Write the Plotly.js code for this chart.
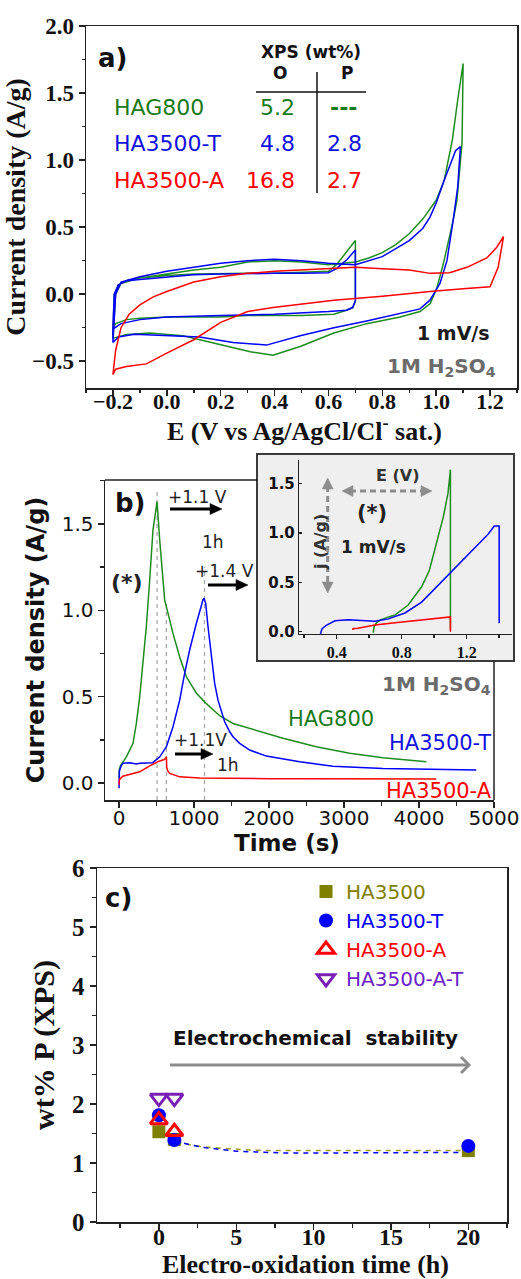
<!DOCTYPE html>
<html><head><meta charset="utf-8">
<script src="https://cdn.plot.ly/plotly-3.0.1.min.js"></script>
<style>html,body{margin:0;padding:0;background:#fff;}#chart{width:521px;height:1279px;}</style>
</head><body><div id="chart"></div>
<script>
// ================= DATA =================
// Panel a) cyclic voltammograms, E (V) vs current density (A/g)
const cvGreenE = [-0.2,-0.195,-0.18,-0.15,-0.1,0.0,0.1,0.2,0.3,0.4,0.5,0.6,0.63,0.66,0.7,0.7,0.69,0.667,0.62,0.5,0.4,0.3,0.2,0.1,0.0,-0.1,-0.15,-0.19,-0.2,
  -0.2,-0.19,-0.17,-0.1,0.0,0.1,0.2,0.3,0.4,0.5,0.6,0.7,0.75,0.8,0.85,0.9,0.95,1.0,1.03,1.06,1.08,1.1,
  1.096,1.077,1.063,1.027,1.003,0.978,0.94,0.866,0.742,0.62,0.495,0.394,0.31,0.185,0.06,-0.064,-0.15,-0.2];
const cvGreenJ = [-0.25,0.0,0.07,0.1,0.12,0.14,0.15,0.155,0.155,0.155,0.16,0.17,0.22,0.3,0.4,-0.05,-0.1,-0.12,-0.15,-0.16,-0.16,-0.16,-0.17,-0.17,-0.17,-0.18,-0.19,-0.22,-0.25,
  -0.33,0.0,0.08,0.12,0.15,0.18,0.2,0.24,0.25,0.24,0.22,0.24,0.27,0.31,0.37,0.45,0.56,0.7,0.85,1.15,1.45,1.72,
  1.13,0.7,0.55,0.23,0.05,-0.07,-0.13,-0.17,-0.22,-0.29,-0.39,-0.455,-0.43,-0.37,-0.31,-0.29,-0.3,-0.33];
const cvBlueE = [-0.2,-0.195,-0.18,-0.15,-0.1,0.0,0.1,0.2,0.3,0.4,0.5,0.6,0.63,0.67,0.7,0.7,0.69,0.667,0.6,0.4,0.2,0.0,-0.1,-0.17,-0.2,
  -0.2,-0.19,-0.17,-0.1,0.0,0.1,0.2,0.3,0.4,0.5,0.6,0.7,0.8,0.9,0.95,0.977,1.0,1.028,1.05,1.072,1.09,
  1.08,1.063,1.04,1.014,0.977,0.94,0.866,0.742,0.62,0.495,0.37,0.246,0.122,0.0,-0.12,-0.18,-0.2];
const cvBlueJ = [-0.26,0.0,0.07,0.1,0.11,0.13,0.145,0.15,0.155,0.155,0.155,0.16,0.19,0.26,0.33,-0.05,-0.1,-0.12,-0.13,-0.15,-0.16,-0.17,-0.19,-0.22,-0.26,
  -0.36,0.0,0.09,0.13,0.17,0.2,0.23,0.25,0.26,0.25,0.23,0.22,0.28,0.4,0.49,0.575,0.68,0.84,0.95,1.07,1.1,
  0.8,0.55,0.25,0.08,-0.045,-0.11,-0.145,-0.2,-0.25,-0.31,-0.38,-0.36,-0.32,-0.31,-0.3,-0.32,-0.36];
const cvRedE = [-0.2,-0.19,-0.17,-0.14,-0.1,-0.05,0.0,0.1,0.2,0.3,0.4,0.5,0.6,0.7,0.8,0.9,0.978,1.05,1.114,1.188,1.225,1.25,
  1.23,1.2,1.1,0.977,0.8,0.62,0.394,0.3,0.2,0.1,0.0,-0.076,-0.15,-0.19,-0.2];
const cvRedJ = [-0.6,-0.42,-0.25,-0.15,-0.08,-0.02,0.02,0.09,0.13,0.155,0.17,0.18,0.19,0.2,0.19,0.18,0.155,0.16,0.2,0.27,0.35,0.43,
  0.2,0.055,0.04,0.02,-0.015,-0.045,-0.1,-0.13,-0.21,-0.34,-0.44,-0.52,-0.54,-0.56,-0.6];

// Panel b) current density vs time (s)
const tGreen = [0,5,18,60,98,187,231,276,320,364,409,453,498,507,542,587,609,720,809,898,1032,1165,1342,1520,1743,2187,2631,3076,3520,4099];
const jGreen = [0.03,0.08,0.1,0.13,0.152,0.23,0.345,0.5,0.69,0.905,1.175,1.465,1.6,1.63,1.41,1.17,1.06,0.866,0.73,0.615,0.52,0.46,0.39,0.345,0.316,0.259,0.21,0.172,0.147,0.123];
const tBlue = [0,5,30,53,142,231,276,364,450,543,632,720,809,876,942,1032,1076,1120,1133,1156,1187,1231,1276,1320,1364,1409,1476,1520,1609,1743,1965,2409,2853,3520,4365,4765];
const jBlue = [-0.03,0.07,0.1,0.115,0.118,0.11,0.115,0.115,0.118,0.152,0.21,0.326,0.48,0.636,0.77,0.925,1.0,1.06,1.07,1.04,0.905,0.731,0.576,0.48,0.413,0.355,0.297,0.268,0.23,0.191,0.156,0.123,0.098,0.085,0.079,0.075];
const tRed = [0,5,50,187,276,409,542,609,632,636,650,676,760,809,1076,1300,1600,2000,2500,3000,3500,4000,4231];
const jRed = [-0.01,0.02,0.04,0.055,0.065,0.1,0.128,0.137,0.152,0.09,0.07,0.056,0.045,0.036,0.029,0.027,0.026,0.025,0.025,0.024,0.024,0.023,0.023];
const peakTimes = [507,632,1140];
const peakTops = [1.686,1.06,1.25];

// Panel b) inset: j (A/g) vs E (V)
const insGreenE = [0.625,0.63,0.645,0.666,0.72,0.76,0.84,0.923,0.97,1.005,1.056,1.085,1.1,1.1];
const insGreenJ = [-0.01,0.05,0.09,0.118,0.15,0.17,0.27,0.455,0.62,0.83,1.16,1.4,1.64,0.02];
const insBlueE = [0.3,0.31,0.338,0.39,0.47,0.574,0.636,0.718,0.82,0.923,1.025,1.128,1.23,1.333,1.37,1.4,1.4];
const insBlueJ = [-0.02,0.03,0.068,0.11,0.12,0.115,0.105,0.13,0.19,0.3,0.47,0.64,0.81,0.99,1.07,1.07,0.085];
const insRedE = [0.5,0.5,0.53,0.636,0.76,0.923,1.1,1.1];
const insRedJ = [0.017,0.03,0.035,0.068,0.09,0.12,0.15,0.0];

// Panel c) wt% P (XPS) vs electro-oxidation time (h)
const cHA3500_t = [0,1,20], cHA3500 = [1.53,1.40,1.21];
const cHA3500T_t = [0,1,20], cHA3500T = [1.81,1.39,1.29];
const cHA3500A_t = [0,1], cHA3500A = [1.73,1.53];
const cHA3500AT_t = [0,1], cHA3500AT = [2.1,2.1];
const fitOlive_t = [0,0.5,1,2,3,4,5,6,7,8,10,12,14,16,18,20];
const fitOlive = [1.53,1.45,1.38,1.31,1.27,1.25,1.23,1.22,1.21,1.21,1.21,1.21,1.21,1.21,1.21,1.21];
const fitBlue_t = [1,2,3,4,5,6,7,8,10,12,14,16,18,20];
const fitBlue = [1.38,1.31,1.26,1.23,1.2,1.19,1.18,1.17,1.17,1.17,1.17,1.18,1.18,1.18];

// ================= STYLE =================
const W = 521, H = 1279;
const fx = v => v / W, fy = v => 1 - v / H;
const SERIF = 'Liberation Serif, Times New Roman, serif';
const SANS = 'DejaVu Sans, Verdana, sans-serif';
const GREEN = '#1e8c1e', BLUE = '#0000ff', RED = '#ff0000', OLIVE = '#808000', PURPLE = '#7a1fb5';
const AX = '#222';

const traces = [
  {x: cvGreenE, y: cvGreenJ, xaxis:'x', yaxis:'y', mode:'lines', line:{color:GREEN, width:1.5}, showlegend:false},
  {x: cvBlueE, y: cvBlueJ, xaxis:'x', yaxis:'y', mode:'lines', line:{color:BLUE, width:1.5}, showlegend:false},
  {x: cvRedE, y: cvRedJ, xaxis:'x', yaxis:'y', mode:'lines', line:{color:RED, width:1.5}, showlegend:false},
];
peakTimes.forEach((t, i) => traces.push({x:[t,t], y:[-0.098, peakTops[i]], xaxis:'x2', yaxis:'y2', mode:'lines',
  line:{color:'#a8a8a8', width:1.3, dash:'4px,4px'}, showlegend:false}));
traces.push(
  {x: tGreen, y: jGreen, xaxis:'x2', yaxis:'y2', mode:'lines', line:{color:GREEN, width:1.5}, showlegend:false},
  {x: tBlue, y: jBlue, xaxis:'x2', yaxis:'y2', mode:'lines', line:{color:BLUE, width:1.5}, showlegend:false},
  {x: tRed, y: jRed, xaxis:'x2', yaxis:'y2', mode:'lines', line:{color:RED, width:1.5}, showlegend:false},
  {x: insGreenE, y: insGreenJ, xaxis:'x4', yaxis:'y4', mode:'lines', line:{color:GREEN, width:1.5}, showlegend:false},
  {x: insBlueE, y: insBlueJ, xaxis:'x4', yaxis:'y4', mode:'lines', line:{color:BLUE, width:1.5}, showlegend:false},
  {x: insRedE, y: insRedJ, xaxis:'x4', yaxis:'y4', mode:'lines', line:{color:RED, width:1.5}, showlegend:false},
  {x: fitOlive_t, y: fitOlive, xaxis:'x3', yaxis:'y3', mode:'lines', line:{color:'#a0a020', width:1.5, dash:'5px,5px'}, showlegend:false},
  {x: fitBlue_t, y: fitBlue, xaxis:'x3', yaxis:'y3', mode:'lines', line:{color:BLUE, width:1.5, dash:'5px,5px'}, showlegend:false},
  {x: cHA3500_t, y: cHA3500, xaxis:'x3', yaxis:'y3', mode:'markers', name:'<span style="color:'+OLIVE+'">HA3500</span>',
    marker:{symbol:'square', size:13, color:OLIVE}},
  {x: cHA3500T_t, y: cHA3500T, xaxis:'x3', yaxis:'y3', mode:'markers', name:'<span style="color:'+BLUE+'">HA3500-T</span>',
    marker:{symbol:'circle', size:14, color:BLUE}},
  {x: cHA3500A_t, y: cHA3500A, xaxis:'x3', yaxis:'y3', mode:'markers', name:'<span style="color:'+RED+'">HA3500-A</span>',
    marker:{symbol:'triangle-up-open', size:15, color:RED, line:{width:3, color:RED}}},
  {x: cHA3500AT_t, y: cHA3500AT, xaxis:'x3', yaxis:'y3', mode:'markers', name:'<span style="color:#6a22c8">HA3500-A-T</span>',
    marker:{symbol:'triangle-down-open', size:15, color:PURPLE, line:{width:3, color:PURPLE}}}
);

function axisBase(extra){
  return Object.assign({showgrid:false, zeroline:false, showline:true, linecolor:AX, linewidth:1.5,
    ticks:'outside', ticklen:6, tickwidth:1.5, tickcolor:AX, fixedrange:true}, extra);
}
const serifTick = s => ({family:SERIF, size:s, weight:'bold', color:'#111'});
const sansTick = (s, w) => ({family:SANS, size:s, weight:w||'normal', color:'#111'});

const layout = {
  width:W, height:H, margin:{l:0,r:0,t:0,b:0}, paper_bgcolor:'#fff', plot_bgcolor:'rgba(0,0,0,0)',
  font:{family:SANS, color:'#111'}, hovermode:false,
  // panel a
  xaxis: axisBase({domain:[fx(86), fx(517)], anchor:'y', range:[-0.3,1.3], dtick:0.2, tick0:-0.2, tickformat:'.1f', mirror:true,
    ticklabelstandoff:-13,
    minor:{dtick:0.1, tick0:0, ticks:'outside', ticklen:3, tickcolor:AX}, tickfont:serifTick(22)}),
  yaxis: axisBase({domain:[fy(388), fy(26)], anchor:'x', range:[-0.7,2.0], dtick:0.5, tick0:0, tickformat:'.1f', mirror:true,
    minor:{dtick:0.25, tick0:0, ticks:'outside', ticklen:3, tickcolor:AX}, tickfont:serifTick(23),
    title:{text:'Current density (A/g)', font:{family:SERIF, size:28, weight:'bold', color:'#111'}, standoff:4}}),
  // panel b
  xaxis2: axisBase({domain:[fx(105), fx(494)], anchor:'y2', range:[-187,5001], dtick:1000, tick0:0,
    ticklabelstandoff:-7,
    minor:{dtick:500, tick0:0, ticks:'outside', ticklen:4, tickcolor:AX}, tickfont:sansTick(20)}),
  yaxis2: axisBase({domain:[fy(800), fy(480)], anchor:'x2', range:[-0.098,1.754], dtick:0.5, tick0:0, tickformat:'.1f',
    minor:{dtick:0.25, tick0:0, ticks:'outside', ticklen:4, tickcolor:AX}, tickfont:sansTick(20),
    title:{text:'Current density (A/g)', font:{family:SANS, size:24, weight:'bold', color:'#111'}, standoff:10}}),
  // panel c
  xaxis3: axisBase({domain:[fx(97), fx(507)], anchor:'y3', range:[-4,22.5], dtick:5, tick0:0, mirror:true,
    ticklabelstandoff:-13,
    minor:{dtick:2.5, tick0:0, ticks:'outside', ticklen:4, tickcolor:AX}, tickfont:serifTick(24)}),
  yaxis3: axisBase({domain:[fy(1222), fy(868)], anchor:'x3', range:[0,6], dtick:1, tick0:0, mirror:true,
    minor:{dtick:0.5, tick0:0, ticks:'outside', ticklen:4, tickcolor:AX}, tickfont:serifTick(25),
    title:{text:'wt% P (XPS)', font:{family:SERIF, size:30, weight:'bold', color:'#111'}, standoff:8}}),
  // inset
  xaxis4: axisBase({domain:[fx(299), fx(512)], anchor:'y4', range:[0.168,1.479], dtick:0.4, tick0:0, ticklen:4, linewidth:1.2,
    minor:{dtick:0.2, tick0:0, ticks:'outside', ticklen:3, tickcolor:AX}, tickfont:serifTick(16)}),
  yaxis4: axisBase({domain:[fy(634), fy(460)], anchor:'x4', range:[-0.023,1.738], dtick:0.5, tick0:0, tickformat:'.1f',
    ticks:'inside', ticklen:3, linewidth:1.2, tickfont:sansTick(15,'bold')}),
  showlegend:true,
  legend:{x:fx(306), y:fy(872), xanchor:'left', yanchor:'top', bgcolor:'rgba(0,0,0,0)', borderwidth:0,
    font:{family:SANS, size:20}, itemwidth:30, tracegroupgap:0, itemclick:false, itemdoubleclick:false},
  shapes:[], annotations:[]
};

// --- shapes (layout furniture) ---
const S = layout.shapes;
const pline = (x0,y0,x1,y1,opt) => S.push(Object.assign({type:'line', xref:'paper', yref:'paper',
  x0:fx(x0), y0:fy(y0), x1:fx(x1), y1:fy(y1), line:{color:'#111', width:1.5}}, opt||{}));
const ppath = (pts, close, opt) => S.push(Object.assign({type:'path', xref:'paper', yref:'paper',
  path:'M' + pts.map(p => fx(p[0]) + ',' + fy(p[1])).join(' L') + (close ? ' Z' : '')}, opt));
// table lines in panel a
pline(256,92,366,92); pline(317,72,317,193);
// panel b frame pieces not covered by inset
pline(105,480,257,480,{line:{color:AX,width:1.5}});
pline(494,661,494,800,{line:{color:AX,width:1.5}});
// inset box
S.push({type:'rect', xref:'paper', yref:'paper', x0:fx(257), x1:fx(514), y0:fy(661), y1:fy(454),
  fillcolor:'#efefef', line:{color:'#3a3a3a', width:2}, layer:'below'});
// inset dashed double arrows
const GRAY = '#8c8c8c';
pline(350,491,424,491,{line:{color:GRAY,width:3,dash:'6px,4px'}});
pline(327.7,486,327.7,585,{line:{color:GRAY,width:3,dash:'6px,4px'}});
const tri = pts => ppath(pts, true, {fillcolor:GRAY, line:{color:GRAY, width:0.5}});
tri([[342,491],[353,485.5],[353,496.5]]);
tri([[432,491],[421,485.5],[421,496.5]]);
tri([[327.7,478],[322.2,489],[333.2,489]]);
tri([[327.7,593],[322.2,582],[333.2,582]]);
// black arrows in panel b
const blackArrow = (x0, x1, y) => {
  pline(x0, y, x1 - 9, y, {line:{color:'#000', width:3}});
  ppath([[x1,y],[x1-12,y-5.5],[x1-12,y+5.5]], true, {fillcolor:'#000', line:{color:'#000', width:0.5}});
};
blackArrow(170, 222, 509);
blackArrow(208, 248, 585);
blackArrow(175, 213, 754);
// gray arrow in panel c
pline(170, 1065, 468, 1065, {line:{color:GRAY, width:3}});
ppath([[461,1057],[469,1065],[461,1073]], false, {line:{color:GRAY, width:3}});

// --- annotations ---
const A = layout.annotations;
const txt = (text, x, y, opt) => A.push(Object.assign({text:text, x:fx(x), y:fy(y), xref:'paper', yref:'paper',
  showarrow:false, xanchor:'center', yanchor:'middle', font:{family:SANS, size:17, color:'#111'}}, opt||{}));
const f = (size, color, weight, fam) => ({family:fam||SANS, size:size, color:color||'#111', weight:weight||'normal'});

// x-axis titles
txt('E (V vs Ag/AgCl/Cl<sup>-</sup> sat.)', 304, 430, {font:f(26,'#111','bold',SERIF)});
txt('Time (s)', 287, 843, {font:f(23,'#111','bold')});
txt('Electro-oxidation time (h)', 305, 1264, {font:f(26,'#111','bold',SERIF)});

// panel a
txt('a)', 112, 58, {font:f(26,'#111','bold')});
txt('XPS (wt%)', 311, 52, {font:f(17,'#111','bold')});
txt('O', 280, 73, {font:f(17,'#111','bold')});
txt('P', 347, 73, {font:f(17,'#111','bold')});
txt('HAG800', 112, 107, {xanchor:'left', font:f(22,'#1a7a1a')});
txt('5.2', 297, 107, {xanchor:'right', font:f(22,'#1a7a1a')});
txt('---', 343, 107, {font:f(22,'#1a7a1a','bold')});
txt('HA3500-T', 112, 144, {xanchor:'left', font:f(22,'#1010e0')});
txt('4.8', 297, 144, {xanchor:'right', font:f(22,'#1010e0')});
txt('2.8', 344, 144, {font:f(22,'#1010e0')});
txt('HA3500-A', 112, 180, {xanchor:'left', font:f(22,RED)});
txt('16.8', 297, 180, {xanchor:'right', font:f(22,RED)});
txt('2.7', 344, 180, {font:f(22,RED)});
txt('1 mV/s', 492, 333, {xanchor:'right', font:f(19,'#1a1a1a','bold')});
txt('1M H<sub>2</sub>SO<sub>4</sub>', 498, 367, {xanchor:'right', font:f(20,'#6b6b6b','bold')});

// panel b
txt('b)', 130, 503, {font:f(26,'#111','bold')});
txt('+1.1 V', 197, 497, {font:f(17,'#222')});
txt('1h', 213, 542, {font:f(17,'#222')});
txt('+1.4 V', 224, 571, {font:f(17,'#222')});
txt('(*)', 127, 582, {font:f(22,'#222','bold')});
txt('+1.1V', 200, 740, {font:f(17,'#222')});
txt('1h', 228, 765, {font:f(17,'#222')});
txt('1M H<sub>2</sub>SO<sub>4</sub>', 493, 685, {xanchor:'right', font:f(20,'#6b6b6b','bold')});
txt('HAG800', 286, 719, {xanchor:'left', font:f(21,'#1a7a1a')});
txt('HA3500-T', 387, 743, {xanchor:'left', font:f(21,'#1010e0')});
txt('HA3500-A', 384, 791, {xanchor:'left', font:f(21,RED)});
// inset
txt('E (V)', 398, 475, {font:f(16,'#333','bold')});
txt('(*)', 372, 513, {font:f(21,'#222','bold')});
txt('1 mV/s', 373, 547, {font:f(17,'#222','bold')});
txt('j (A/g)', 320, 542, {textangle:-90, font:f(16,'#333','bold')});

// panel c
txt('c)', 118, 898, {font:f(26,'#111','bold')});
txt('Electrochemical  stability', 315, 1038, {font:f(20,'#111','bold')});

Plotly.newPlot('chart', traces, layout, {staticPlot:true, displayModeBar:false});
</script></body></html>
